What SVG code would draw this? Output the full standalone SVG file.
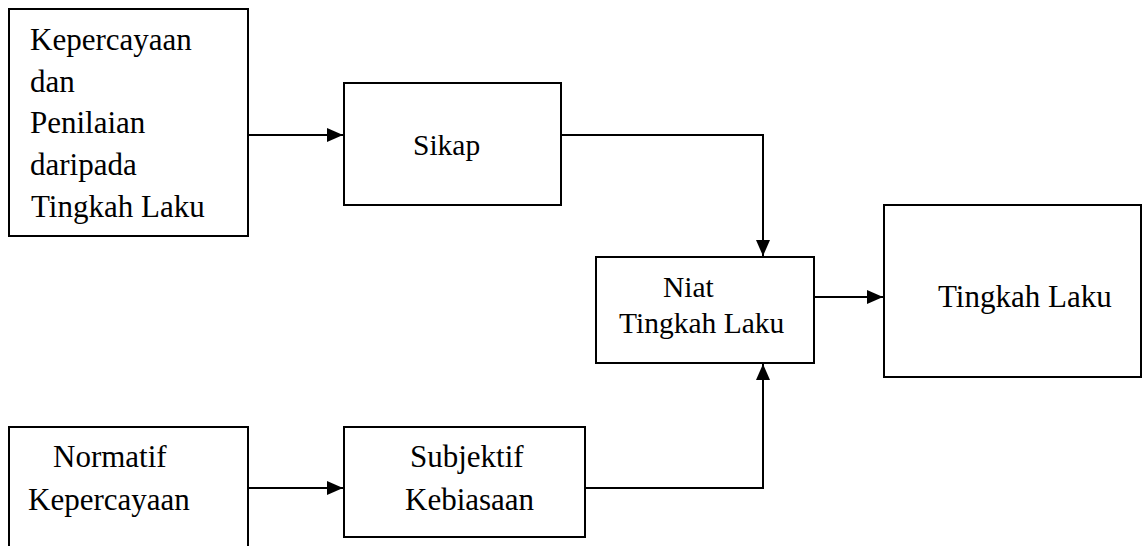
<svg xmlns="http://www.w3.org/2000/svg" width="1143" height="546" viewBox="0 0 1143 546">
  <style>
    .box { fill: #ffffff; stroke: #000000; stroke-width: 2; }
    .lbl { font-family: 'Liberation Serif', 'Times New Roman', Times, serif; font-size: 31px; fill: #000000; }
    .sm { font-size: 29.5px; }
    .wire { fill: none; stroke: #000000; stroke-width: 2; }
  </style>
  <defs>
    <marker id="arrow" viewBox="0 0 16 14" refX="16" refY="7" markerWidth="16" markerHeight="14" markerUnits="userSpaceOnUse" orient="auto">
      <path d="M0,0 L16,7 L0,14 Z" fill="#000000"/>
    </marker>
  </defs>
  <rect width="1143" height="546" fill="#ffffff"/>

  <g id="connectors">
    <path class="wire" d="M248,135 H343" marker-end="url(#arrow)"/>
    <path class="wire" d="M561,135 H763 V256" marker-end="url(#arrow)"/>
    <path class="wire" d="M814,297 H883" marker-end="url(#arrow)"/>
    <path class="wire" d="M248,488 H343" marker-end="url(#arrow)"/>
    <path class="wire" d="M585,488 H763 V364" marker-end="url(#arrow)"/>
  </g>

  <g id="node-kepercayaan-penilaian">
    <rect class="box" x="9" y="9" width="239" height="227"/>
    <text class="lbl" font-family="Liberation Serif" x="30" y="50">Kepercayaan</text>
    <text class="lbl" font-family="Liberation Serif" x="30" y="92">dan</text>
    <text class="lbl" font-family="Liberation Serif" x="30" y="133">Penilaian</text>
    <text class="lbl" font-family="Liberation Serif" x="30" y="175">daripada</text>
    <text class="lbl" font-family="Liberation Serif" x="31" y="217">Tingkah Laku</text>
  </g>

  <g id="node-sikap">
    <rect class="box" x="344" y="83" width="217" height="122"/>
    <text class="lbl sm" font-family="Liberation Serif" x="413" y="155">Sikap</text>
  </g>

  <g id="node-niat">
    <rect class="box" x="596" y="257" width="218" height="106"/>
    <text class="lbl sm" font-family="Liberation Serif" x="663" y="297">Niat</text>
    <text class="lbl sm" font-family="Liberation Serif" x="619" y="333">Tingkah Laku</text>
  </g>

  <g id="node-tingkah-laku">
    <rect class="box" x="884" y="205" width="257" height="172"/>
    <text class="lbl" font-family="Liberation Serif" x="938" y="307">Tingkah Laku</text>
  </g>

  <g id="node-normatif">
    <path class="box" d="M9,547 V427 H248 V547"/>
    <text class="lbl" font-family="Liberation Serif" x="53" y="467">Normatif</text>
    <text class="lbl" font-family="Liberation Serif" x="28" y="510">Kepercayaan</text>
  </g>

  <g id="node-subjektif">
    <rect class="box" x="344" y="427" width="241" height="110"/>
    <text class="lbl" font-family="Liberation Serif" x="410" y="467">Subjektif</text>
    <text class="lbl" font-family="Liberation Serif" x="405" y="510">Kebiasaan</text>
  </g>
</svg>
